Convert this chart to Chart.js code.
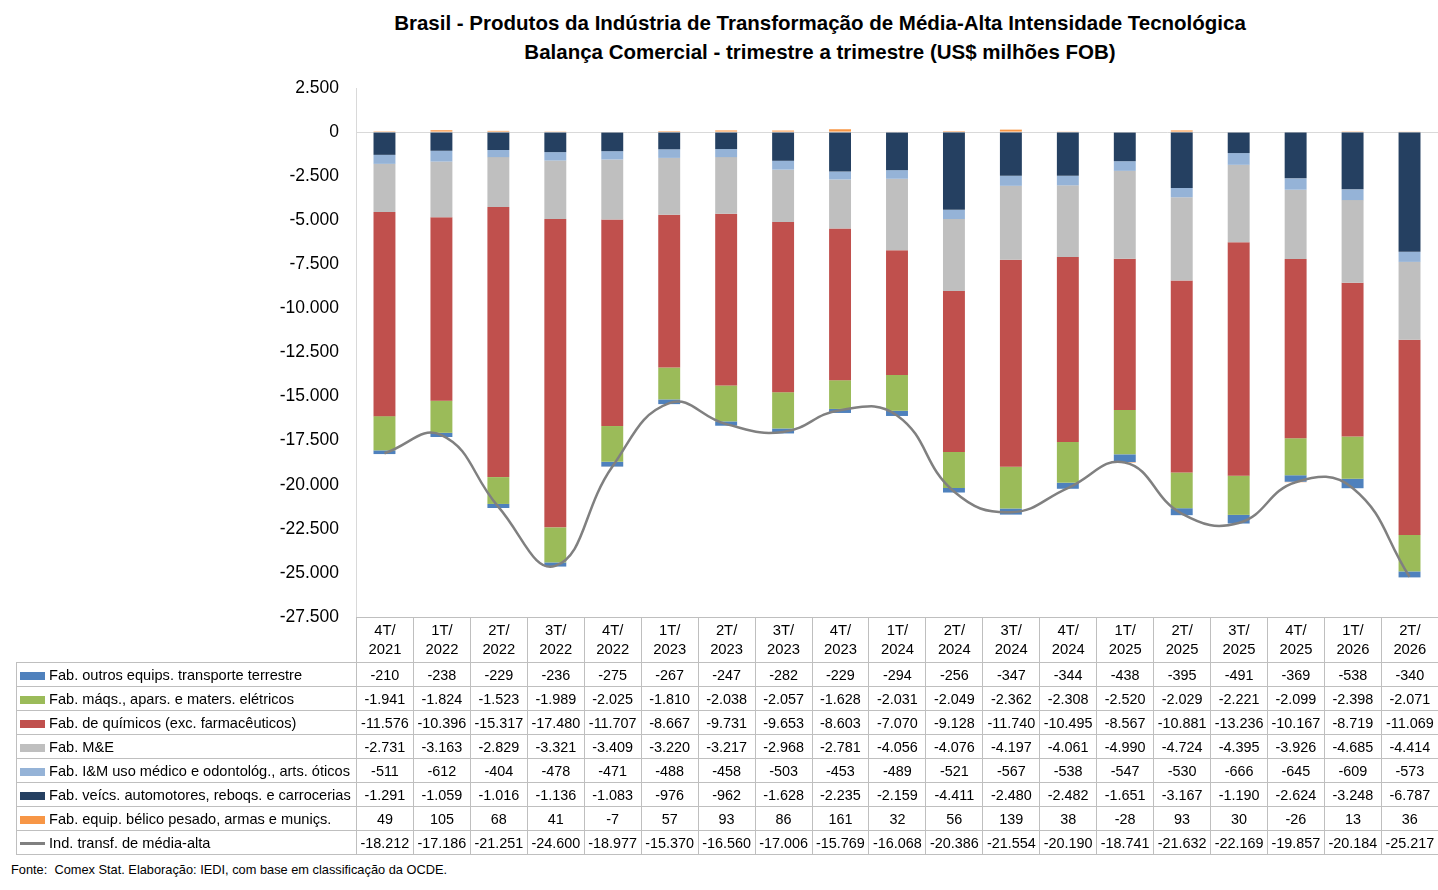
<!DOCTYPE html>
<html>
<head>
<meta charset="utf-8">
<script src="https://cdn.jsdelivr.net/npm/chart.js@4.4.1/dist/chart.umd.min.js"></script>
<style>
  body { margin: 0; background: #fff; font-family: "Liberation Sans", Arial, sans-serif; color: #000; }
  #wrap { position: relative; width: 1438px; height: 890px; overflow: hidden; }
  #title { position: absolute; left: 220px; width: 1200px; top: 8px; text-align: center;
           font-weight: bold; font-size: 20.5px; line-height: 29px; }
  #chart { position: absolute; left: 0; top: 0; }
  #dataTable { position: absolute; left: 16px; top: 617px; border-collapse: collapse; table-layout: fixed; }
  #dataTable td { border: 1px solid #bfbfbf; padding: 0; text-align: center; font-size: 14.4px; white-space: nowrap; overflow: hidden; }
  #dataTable tr.head td { height: 44px; font-size: 14.8px; line-height: 19px; }
  #dataTable tr.head td.blank { border: none; }
  #dataTable tr.row td { height: 23px; }
  #dataTable td.name { text-align: left; font-size: 14.6px; }
  .key { display: inline-block; width: 25px; height: 8px; margin: 0 4px 0 3px; vertical-align: 0px; }
  .key.line { height: 3px; vertical-align: 3px; }
  #source { position: absolute; left: 11px; top: 862px; font-size: 12.8px; }
</style>
</head>
<body>
<div id="wrap">
  <div id="title">Brasil - Produtos da Indústria de Transformação de Média-Alta Intensidade Tecnológica<br>Balança Comercial - trimestre a trimestre (US$ milhões FOB)</div>
  <canvas id="chart" width="1438" height="645"></canvas>
  <table id="dataTable"></table>
  <div id="source">Fonte:&nbsp; Comex Stat. Elaboração: IEDI, com base em classificação da OCDE.</div>
</div>
<script>
const quarters = ['4T/2021', '1T/2022', '2T/2022', '3T/2022', '4T/2022', '1T/2023', '2T/2023', '3T/2023', '4T/2023',
                  '1T/2024', '2T/2024', '3T/2024', '4T/2024', '1T/2025', '2T/2025', '3T/2025', '4T/2025', '1T/2026', '2T/2026'];

const outrosTransporte = [-210, -238, -229, -236, -275, -267, -247, -282, -229, -294, -256, -347, -344, -438, -395, -491, -369, -538, -340];
const maqsEletricos = [-1941, -1824, -1523, -1989, -2025, -1810, -2038, -2057, -1628, -2031, -2049, -2362, -2308, -2520, -2029, -2221, -2099, -2398, -2071];
const quimicos = [-11576, -10396, -15317, -17480, -11707, -8667, -9731, -9653, -8603, -7070, -9128, -11740, -10495, -8567, -10881, -13236, -10167, -8719, -11069];
const maqsEquip = [-2731, -3163, -2829, -3321, -3409, -3220, -3217, -2968, -2781, -4056, -4076, -4197, -4061, -4990, -4724, -4395, -3926, -4685, -4414];
const instrMedicos = [-511, -612, -404, -478, -471, -488, -458, -503, -453, -489, -521, -567, -538, -547, -530, -666, -645, -609, -573];
const veiculos = [-1291, -1059, -1016, -1136, -1083, -976, -962, -1628, -2235, -2159, -4411, -2480, -2482, -1651, -3167, -1190, -2624, -3248, -6787];
const belico = [49, 105, 68, 41, -7, 57, 93, 86, 161, 32, 56, 139, 38, -28, 93, 30, -26, 13, 36];
const totalMediaAlta = [-18212, -17186, -21251, -24600, -18977, -15370, -16560, -17006, -15769, -16068, -20386, -21554, -20190, -18741, -21632, -22169, -19857, -20184, -25217];

const yMin = -27500, yMax = 2500, yStep = 2500;

// series in the order of the data table
const series = [
  { label: 'Fab. outros equips. transporte terrestre', data: outrosTransporte, color: '#4f81bd' },
  { label: 'Fab. máqs., apars. e maters. elétricos', data: maqsEletricos, color: '#9bbb59' },
  { label: 'Fab. de químicos (exc. farmacêuticos)', data: quimicos, color: '#c0504d' },
  { label: 'Fab. M&E', data: maqsEquip, color: '#bfbfbf' },
  { label: 'Fab. I&M uso médico e odontológ., arts. óticos', data: instrMedicos, color: '#95b3d7' },
  { label: 'Fab. veícs. automotores, reboqs. e carrocerias', data: veiculos, color: '#254061' },
  { label: 'Fab. equip. bélico pesado, armas e muniçs.', data: belico, color: '#f79646' },
  { label: 'Ind. transf. de média-alta', data: totalMediaAlta, color: '#808080', line: true }
];

function fmt(v) {
  const s = Math.abs(v).toFixed(0).replace(/\B(?=(\d{3})+(?!\d))/g, '.');
  return (v < 0 ? '-' : '') + s;
}

// stacking: first bar dataset sits next to zero (veículos at top, outros at bottom)
const stackOrder = [5, 4, 3, 2, 1, 0, 6];
const lineSeries = series[7];

const datasets = [{
  type: 'line',
  label: lineSeries.label,
  data: lineSeries.data,
  borderColor: lineSeries.color,
  borderWidth: 2.5,
  pointRadius: 0,
  tension: 0.45,
  fill: false,
  stack: 'total'
}];
stackOrder.forEach(function (i) {
  datasets.push({
    type: 'bar',
    label: series[i].label,
    data: series[i].data,
    backgroundColor: series[i].color,
    stack: 'bars',
    barPercentage: 0.385,
    categoryPercentage: 1
  });
});

const ctx = document.getElementById('chart').getContext('2d');
const chart = new Chart(ctx, {
  data: { labels: quarters, datasets: datasets },
  options: {
    responsive: false,
    animation: false,
    // bottom padding must cover half a tick label plus tick padding
    layout: { padding: { top: 88, bottom: 28, left: 0, right: 0 } },
    plugins: { legend: { display: false }, tooltip: { enabled: false } },
    scales: {
      x: { display: false, stacked: true },
      y: {
        stacked: true,
        min: yMin,
        max: yMax,
        afterFit: function (scale) { scale.width = 356; },
        ticks: {
          stepSize: yStep,
          padding: 17,
          color: '#000',
          font: { family: '"Liberation Sans", Arial, sans-serif', size: 17.5 },
          callback: function (v) { return fmt(v); }
        },
        grid: {
          drawTicks: false,
          color: function (c) { return c.tick && c.tick.value === 0 ? '#d9d9d9' : 'rgba(0,0,0,0)'; }
        },
        border: { display: true, color: '#d9d9d9', width: 1 }
      }
    }
  }
});

// data table under the plot, columns lined up with the category slots
function buildTable() {
  const area = chart.chartArea;
  const colW = (area.right - area.left) / quarters.length;
  const table = document.getElementById('dataTable');
  let html = '<colgroup><col style="width:' + (area.left - 16) + 'px">';
  quarters.forEach(function () { html += '<col style="width:' + colW + 'px">'; });
  html += '</colgroup><tr class="head"><td class="blank"></td>';
  quarters.forEach(function (q) {
    const parts = q.split('/');
    html += '<td>' + parts[0] + '/<br>' + parts[1] + '</td>';
  });
  html += '</tr>';
  series.forEach(function (s) {
    html += '<tr class="row"><td class="name"><span class="key' + (s.line ? ' line' : '') +
            '" style="background:' + s.color + '"></span>' + s.label.replace('&', '&amp;') + '</td>';
    s.data.forEach(function (v) { html += '<td>' + fmt(v) + '</td>'; });
    html += '</tr>';
  });
  table.style.width = (area.right - 16) + 'px';
  table.innerHTML = html;
}
buildTable();
</script>
</body>
</html>
